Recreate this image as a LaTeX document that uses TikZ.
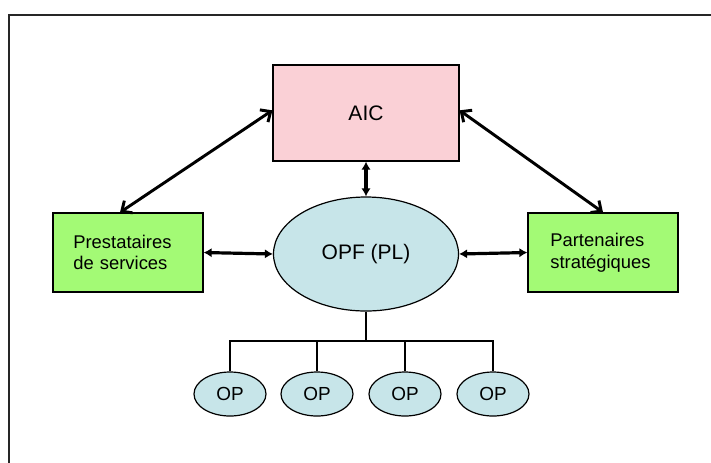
\documentclass[tikz,border=0pt]{standalone}
\usepackage{fontspec}
\setmainfont{Liberation Sans}
\usetikzlibrary{arrows.meta,shapes.geometric}
\definecolor{aicpink}{RGB}{250,208,214}
\definecolor{boxgreen}{RGB}{163,250,117}
\definecolor{ovalblue}{RGB}{199,229,233}
\begin{document}
\begin{tikzpicture}[x=0.75pt,y=-0.75pt,
  box/.style={draw=black, line width=0.9pt, inner sep=0pt},
  sidebox/.style={box, fill=boxgreen, minimum width=112.5pt, minimum height=59.25pt,
    text width=82pt, inner xsep=15pt, align=left, font=\fontsize{13.8}{16.3}\selectfont},
  oval/.style={draw=black, line width=0.9pt, ellipse, fill=ovalblue, inner sep=0pt},
  oparrow/.style={line width=2.4pt, {Latex[length=6pt,width=7pt]}-{Latex[length=6pt,width=7pt]}},
  diagarrow/.style={line width=2.2pt, {Straight Barb[length=6pt,width=11pt]}-{Straight Barb[length=6pt,width=11pt]}},
  tree/.style={line width=1.3pt}]
\useasboundingbox (0,0) rectangle (711,462);
\fill[white] (0,0) rectangle (711,462);
\draw[line width=0.9pt, black!85] (9,470) -- (9,15) -- (720,15);
\node[box, fill=aicpink, minimum width=139.5pt, minimum height=72pt,
  font=\fontsize{15.75}{18}\selectfont] (aic) at (366,113) {AIC};
\node[sidebox] (pres) at (128,252.5) {Prestataires\\de services};
\node[sidebox, inner xsep=16.5pt, text width=79pt] (part) at (603,252.5) {Partenaires\\stratégiques};
\node[oval, minimum width=138.75pt, minimum height=85.5pt,
  font=\fontsize{15.75}{18}\selectfont] (opf) at (366,254) {OPF (PL)};
\foreach \i/\x in {1/230,2/317,3/405,4/493}
  \node[oval, minimum width=54pt, minimum height=33pt,
    font=\fontsize{14.2}{17}\selectfont] (op\i) at (\x,394) {OP};
\coordinate (j) at (366,341);
\draw[diagarrow] ([yshift=2pt]aic.west) -- ([xshift=-6pt]pres.north);
\draw[diagarrow] ([yshift=2pt]aic.east) -- (part.north);
\draw[oparrow] (aic.south) -- (opf.north);
\draw[oparrow] (pres.east) -- (opf.west);
\draw[oparrow] (opf.east) -- (part.west);
\draw[tree] (opf.south) -- (j);
\draw[tree] (op1.north) -- (op1.north |- j) -- (op4.north |- j) -- (op4.north);
\draw[tree] (op2.north) -- (op2.north |- j);
\draw[tree] (op3.north) -- (op3.north |- j);
\end{tikzpicture}
\end{document}
